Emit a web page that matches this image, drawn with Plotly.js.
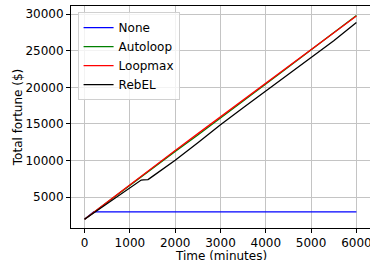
<!DOCTYPE html>
<html>
<head>
<meta charset="utf-8">
<script src="https://cdn.plot.ly/plotly-3.0.1.min.js"></script>
<style>html,body{margin:0;padding:0;background:#fff;}#chart{width:370px;height:260px;}</style>
</head>
<body>
<div id="chart"></div>
<script>
// Data
const seriesNames = ["None", "Autoloop", "Loopmax", "RebEL"];

const noneTime = [0, 200, 6000];
const noneValue = [2000, 3000, 3000];

const autoloopTime = [0, 500, 1000, 1500, 2000, 2500, 3000, 3500, 4000, 4500, 5000, 5500, 6000];
const autoloopValue = [2000, 4340, 6700, 9030, 11260, 13500, 15780, 18080, 20440, 22780, 25100, 27450, 29790];

const loopmaxTime = [0, 500, 1000, 1500, 2000, 2500, 3000, 3500, 4000, 4500, 5000, 5500, 6000];
const loopmaxValue = [2000, 4370, 6740, 9100, 11390, 13680, 15970, 18270, 20560, 22850, 25140, 27430, 29730];

const rebelTime = [0, 250, 500, 750, 1000, 1250, 1300, 1400, 1500, 1750, 2000, 2500, 3000, 3500, 4000, 4500, 5000, 5500, 6000];
const rebelValue = [2000, 3070, 4140, 5210, 6280, 7350, 7380, 7400, 7850, 8900, 10050, 12450, 14900, 17200, 19500, 21750, 23980, 26350, 28850];

const colors = ["#0000ff", "#008000", "#ff0000", "#000000"];

const xTickVals = [0, 1000, 2000, 3000, 4000, 5000, 6000];
const yTickVals = [5000, 10000, 15000, 20000, 25000, 30000];
const xTitle = "Time (minutes)";
const yTitle = "Total fortune ($)";

const times = [noneTime, autoloopTime, loopmaxTime, rebelTime];
const values = [noneValue, autoloopValue, loopmaxValue, rebelValue];

const traces = seriesNames.map((n, i) => ({
  x: times[i], y: values[i], name: n, type: "scatter", mode: "lines",
  line: {color: colors[i], width: 1.3}
}));

const font = {family: "DejaVu Sans", size: 12, color: "#000"};

const layout = {
  width: 370, height: 260,
  margin: {l: 71, r: 0, t: 6, b: 32, pad: 0},
  paper_bgcolor: "#fff", plot_bgcolor: "#fff",
  font: font,
  showlegend: true,
  legend: {
    x: 0.022, y: 0.972, xanchor: "left", yanchor: "top",
    bgcolor: "rgba(255,255,255,0.8)", bordercolor: "#d0d0d0", borderwidth: 1,
    font: font
  },
  xaxis: {
    range: [-300, 6300], tickvals: xTickVals, ticktext: xTickVals.map(String),
    ticklabeloverflow: "allow",
    showgrid: true, gridcolor: "#c4c4c4", gridwidth: 1,
    showline: true, linecolor: "#000", linewidth: 1, mirror: true,
    ticks: "outside", ticklen: 4, tickcolor: "#000",
    zeroline: false, automargin: false
  },
  yaxis: {
    range: [800, 31100], tickvals: yTickVals, ticktext: yTickVals.map(String),
    showgrid: true, gridcolor: "#c4c4c4", gridwidth: 1,
    showline: true, linecolor: "#000", linewidth: 1, mirror: true,
    ticks: "outside", ticklen: 4, tickcolor: "#000",
    zeroline: false, automargin: false,
    title: {text: yTitle, font: font, standoff: 0}
  },
  annotations: [{
    text: xTitle, xref: "paper", yref: "paper", x: 0.5, y: -0.127,
    xanchor: "center", yanchor: "middle", showarrow: false, font: font
  }]
};

Plotly.newPlot("chart", traces, layout, {displayModeBar: false, staticPlot: true});
</script>
</body>
</html>
